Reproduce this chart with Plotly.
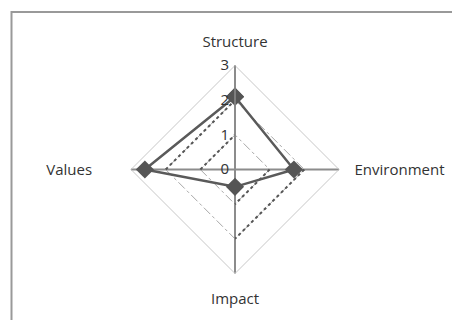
import plotly.graph_objects as go

categories = ["Structure", "Environment", "Impact", "Values"]
scores = [2.1, 1.7, 0.5, 2.6]
radial_ticks = [0, 1, 2, 3]
# reference levels drawn as dark dotted edges (Values→Structure and Environment→Impact)
ref_levels = [1, 2]

FONT = "Open Sans"
OFF = 8  # page body margin offset
cx, cy, R = 235 - OFF, 169.5 - OFF, 104

fig = go.Figure()

for lvl in ref_levels:
    fig.add_trace(go.Scatterpolar(
        r=[lvl, lvl, None, lvl, lvl],
        theta=[categories[3], categories[0], None, categories[1], categories[2]],
        mode="lines",
        line=dict(color="#555555", width=2, dash="dot"),
        connectgaps=False,
        hoverinfo="skip",
        showlegend=False,
    ))

fig.add_trace(go.Scatterpolar(
    r=scores + [scores[0]],
    theta=categories + [categories[0]],
    mode="lines+markers",
    line=dict(color="#5a5a5a", width=2.5),
    marker=dict(symbol="diamond", size=14, color="#555555"),
    showlegend=False,
))

ticktext = [c if c != "Values" else c + "\u00a0" * 6 for c in categories]

fig.update_layout(
    width=460, height=320,
    margin=dict(l=0, r=0, t=0, b=0),
    paper_bgcolor="white",
    plot_bgcolor="white",
    font=dict(family=FONT, size=15, color="#333333"),
    polar=dict(
        domain=dict(x=[(cx - R) / 460, (cx + R) / 460],
                    y=[(320 - cy - R) / 320, (320 - cy + R) / 320]),
        gridshape="linear",
        bgcolor="white",
        radialaxis=dict(
            range=[0, 3],
            tickvals=radial_ticks,
            angle=90,
            tickangle=90,
            side="counterclockwise",
            showline=True,
            linecolor="#8c8c8c",
            linewidth=1.5,
            gridcolor="#a8a8a8",
            gridwidth=1,
            griddash="dashdot",
            ticks="",
            tickfont=dict(family=FONT, size=15, color="#333333"),
        ),
        angularaxis=dict(
            rotation=90,
            direction="clockwise",
            categoryarray=categories,
            tickvals=categories,
            ticktext=ticktext,
            showline=True,
            linecolor="#c8c8c8",
            linewidth=1,
            showgrid=True,
            gridcolor="#8c8c8c",
            gridwidth=1.5,
            ticks="outside",
            ticklen=12,
            tickcolor="rgba(0,0,0,0)",
            tickfont=dict(family=FONT, size=15, color="#333333"),
        ),
    ),
    shapes=[dict(
        type="rect", xref="paper", yref="paper",
        x0=(11.5 - OFF) / 460, x1=1.05, y0=-0.05, y1=1 - (12 - OFF) / 320,
        line=dict(color="#999999", width=2),
        fillcolor="rgba(0,0,0,0)",
    )],
)

fig.write_html("out.html")
